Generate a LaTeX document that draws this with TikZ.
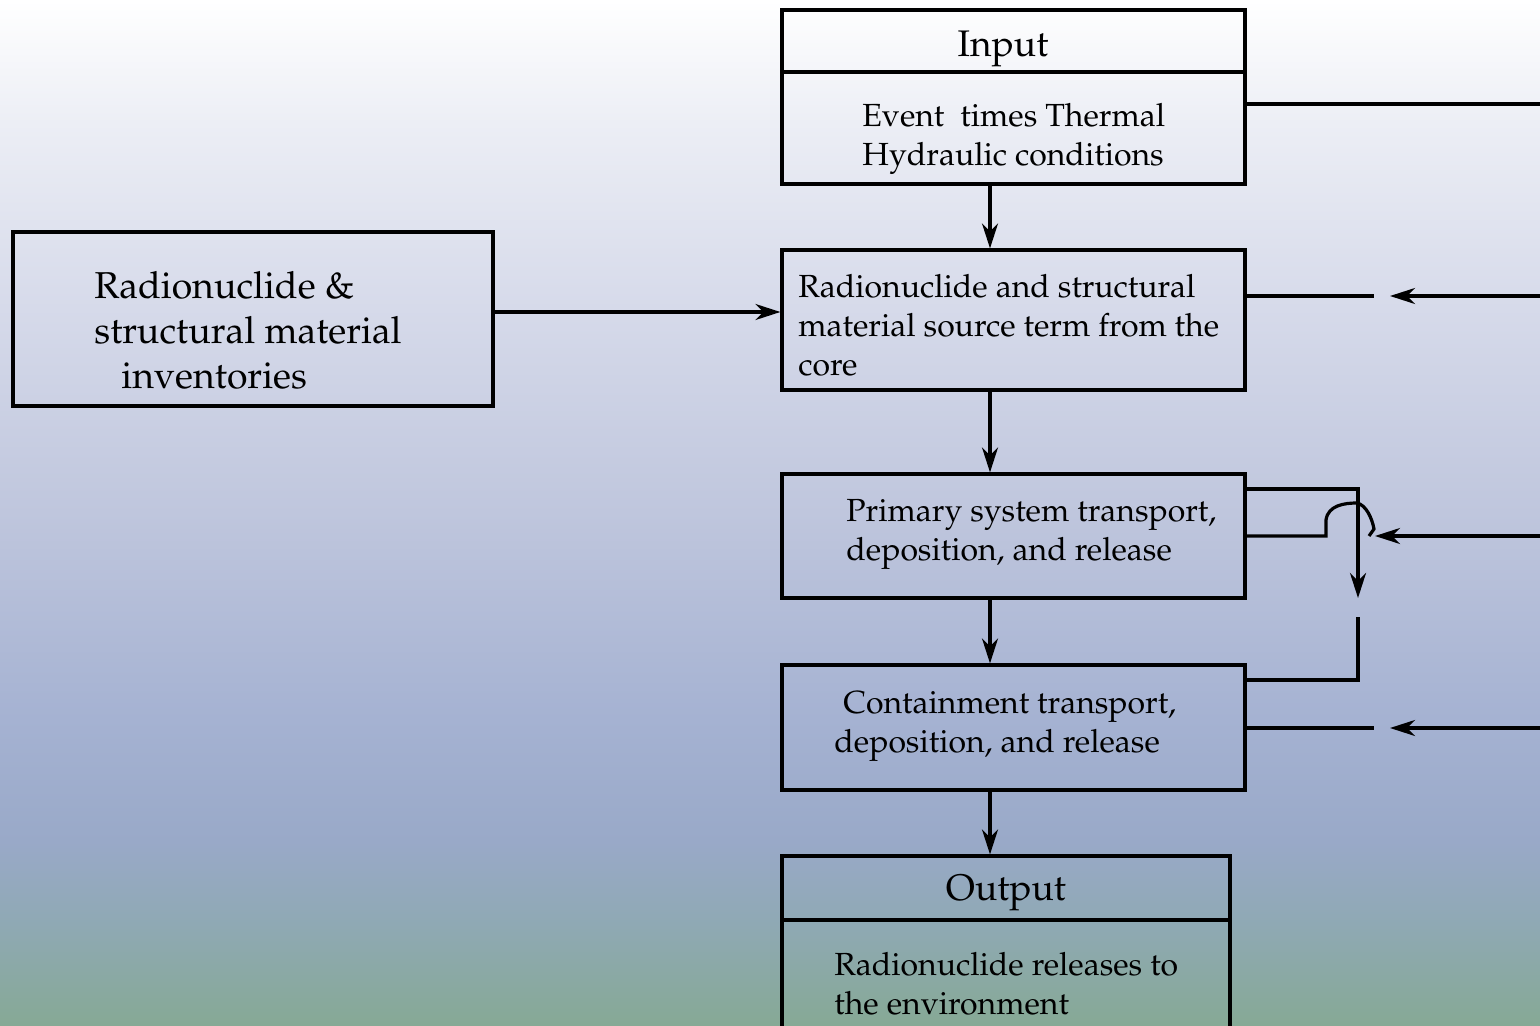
\documentclass[tikz,border=0pt]{standalone}
\usepackage[T1]{fontenc}
\usepackage{mathpazo}
\usetikzlibrary{arrows.meta}

\definecolor{bgA}{RGB}{134,169,149}
\definecolor{bgB}{RGB}{143,169,180}
\definecolor{bgC}{RGB}{153,169,200}
\definecolor{bgD}{RGB}{165,178,210}
\definecolor{bgE}{RGB}{191,198,221}
\definecolor{bgF}{RGB}{214,218,234}
\definecolor{bgG}{RGB}{236,238,245}
\pgfdeclareverticalshading{backfade}{100bp}{color(0bp)=(bgA); color(25bp)=(bgA);
  color(30bp)=(bgB); color(34bp)=(bgC); color(40bp)=(bgD); color(50bp)=(bgE);
  color(60bp)=(bgF); color(69bp)=(bgG); color(75bp)=(white); color(100bp)=(white)}

\begin{document}
\begin{tikzpicture}[x=0.5pt,y=-0.5pt,
  box/.style={draw,line width=1.6pt,inner sep=0pt,minimum width=231.5pt},
  txt/.style={inner sep=0pt,anchor=west,align=left,font=\fontsize{16}{19.5}\selectfont},
  head/.style={inner sep=0pt,anchor=base,font=\fontsize{18.5}{22}\selectfont},
  flow/.style={line width=1.6pt,-{Stealth[length=12.5pt,width=8pt,inset=4pt]}},
  link/.style={line width=1.6pt}]
\clip (0,0) rectangle (1540,1026);
\shade[shading=backfade] (0,0) rectangle (1540,1026);

% boxes
\node(inhead)[box,minimum height=31pt] at (1013.5,41) {};
\node(inbody)[box,minimum height=56pt] at (1013.5,128) {};
\node(inv)[box,minimum width=240pt,minimum height=87pt] at (253,319) {};
\node(src)[box,minimum height=70pt] at (1013.5,320) {};
\node(prim)[box,minimum height=62pt] at (1013.5,536) {};
\node(cont)[box,minimum height=62.5pt] at (1013.5,727.5) {};
\node(outhead)[box,minimum width=224pt,minimum height=32pt] at (1006,888) {};
\node(outbody)[box,minimum width=224pt,minimum height=70pt] at (1006,990) {};

% texts
\node(intitle)[head] at (1003,57) {Input};
\node(outtitle)[head] at (1006,900) {Output};
\node(intxt)[txt] at (862,139) {Event\ \ times Thermal\\Hydraulic conditions};
\node(invtxt)[txt,font=\fontsize{18.7}{22.5}\selectfont] at (94,330)
  {Radionuclide \&\\structural material\\\hspace*{13.5pt}inventories};
\node(srctxt)[txt] at (798,325) {Radionuclide and structural\\material source term from the\\core};
\node(primtxt)[txt] at (846,534) {Primary system transport,\\deposition, and release};
\node(conttxt)[txt] at (834,726) {\hspace*{4.5pt}Containment transport,\\deposition, and release};
\node(outtxt)[txt] at (834,984) {Radionuclide releases to\\the environment};

% main column
\coordinate (col) at (990,0);
\draw[flow] (inbody.south -| col) -- (src.north -| col);
\draw[flow] (src.south -| col) -- (prim.north -| col);
\draw[flow] (prim.south -| col) -- (cont.north -| col);
\draw[flow] (cont.south -| col) -- (outhead.north -| col);
\draw[flow] ([yshift=3.5pt]inv.east) -- ([yshift=3.5pt]inv.east -| src.west);

% right hand side
\coordinate (e1) at (1540,104);
\coordinate (e2) at (1540,296);
\coordinate (g2) at (1374,296);
\coordinate (t2) at (1390,296);
\coordinate (e3) at (1540,536);
\coordinate (h3) at (1326,536);
\coordinate (t3) at (1375,536);
\coordinate (e4) at (1540,728);
\coordinate (g4) at (1374,728);
\coordinate (t4) at (1390,728);
\coordinate (up) at (1358,489);
\coordinate (dn) at (1358,598);
\coordinate (lo) at (1358,680);
\coordinate (lotop) at (1358,617);

\draw[link] (inbody.east |- e1) -- (e1);
\draw[link] (src.east |- e2) -- (g2);
\draw[flow] (e2) -- (t2);
\draw[flow] (prim.east |- up) -- (up) -- (dn);
\draw[link] (prim.east |- h3) -- (h3) -- (1326,520)
  .. controls (1328,505) and (1345,503) .. (1357,503)
  .. controls (1366,505) and (1372,518) .. (1374,529) -- (1369,536);
\draw[flow] (e3) -- (t3);
\draw[link] (cont.east |- lo) -- (lo) -- (lotop);
\draw[link] (cont.east |- g4) -- (g4);
\draw[flow] (e4) -- (t4);
\end{tikzpicture}
\end{document}
